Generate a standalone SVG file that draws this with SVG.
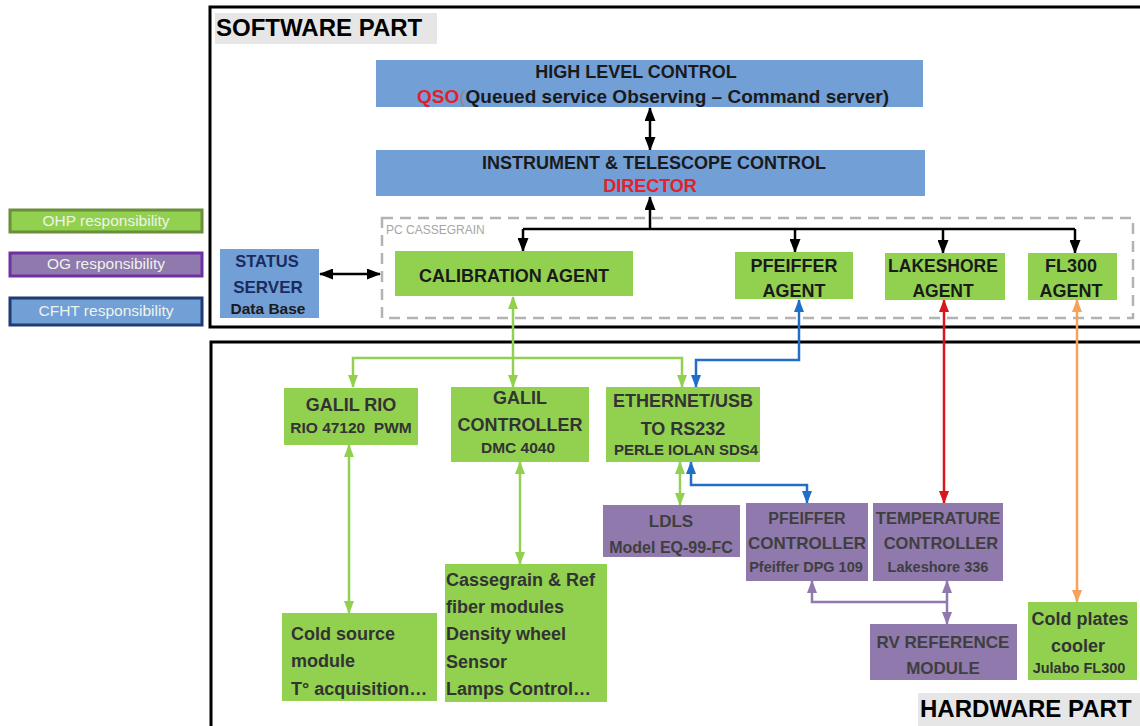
<svg xmlns="http://www.w3.org/2000/svg" width="1140" height="726" viewBox="0 0 1140 726">
<defs>
<style>
text{font-family:"Liberation Sans",Arial,sans-serif;}
.frame{fill:none;stroke:#000;stroke-width:3;}
.lbl{fill:#e6e6e6;}
.part{font-size:24px;font-weight:bold;fill:#000;}
.blue{fill:#729fd6;}
.green{fill:#92d050;}
.purple{fill:#8f79ad;}
.t{font-weight:bold;text-anchor:middle;fill:#1a1a1a;}
.h{font-weight:bold;text-anchor:middle;fill:#333;}
.hl{font-weight:bold;fill:#333;}
.p{font-weight:bold;text-anchor:middle;fill:#3f3f3f;}
.red{fill:#e3202b;}
.navy{fill:#1a2b5e;}
.leg{font-size:15.5px;text-anchor:middle;fill:#eef3ea;}
.c{fill:none;stroke-width:2.5;}
.ck{stroke:#000;}
.cg{stroke:#92d050;}
.cb{stroke:#1f6fc8;}
.cr{stroke:#d9151e;}
.co{stroke:#f7a25a;}
.cp{stroke:#8f79ad;}
</style>
<marker id="ak" viewBox="0 0 14 11" refX="13" refY="5.5" markerWidth="14" markerHeight="11" markerUnits="userSpaceOnUse" orient="auto-start-reverse"><path d="M0,0L14,5.5L0,11z" fill="#000"/></marker>
<marker id="ag" viewBox="0 0 13 10" refX="12" refY="5" markerWidth="13" markerHeight="10" markerUnits="userSpaceOnUse" orient="auto-start-reverse"><path d="M0,0L13,5L0,10z" fill="#92d050"/></marker>
<marker id="ab" viewBox="0 0 13 10" refX="12" refY="5" markerWidth="13" markerHeight="10" markerUnits="userSpaceOnUse" orient="auto-start-reverse"><path d="M0,0L13,5L0,10z" fill="#1f6fc8"/></marker>
<marker id="ar" viewBox="0 0 13 10" refX="12" refY="5" markerWidth="13" markerHeight="10" markerUnits="userSpaceOnUse" orient="auto-start-reverse"><path d="M0,0L13,5L0,10z" fill="#d9151e"/></marker>
<marker id="ao" viewBox="0 0 13 10" refX="12" refY="5" markerWidth="13" markerHeight="10" markerUnits="userSpaceOnUse" orient="auto-start-reverse"><path d="M0,0L13,5L0,10z" fill="#f7a25a"/></marker>
<marker id="ap" viewBox="0 0 13 10" refX="12" refY="5" markerWidth="13" markerHeight="10" markerUnits="userSpaceOnUse" orient="auto-start-reverse"><path d="M0,0L13,5L0,10z" fill="#8f79ad"/></marker>
</defs>
<rect width="1140" height="726" fill="#fff"/>

<g id="software-part">
<rect class="frame" x="210" y="7" width="940" height="320"/>
<rect class="lbl" x="215" y="13" width="222" height="31"/>
<text class="part" x="216" y="36">SOFTWARE PART</text>
</g>
<g id="hardware-part">
<rect class="frame" x="211" y="342" width="940" height="400"/>
<rect class="lbl" x="918" y="693" width="222" height="33"/>
<text class="part" x="920" y="717">HARDWARE PART</text>
</g>

<g id="legend">
<g id="legend-ohp"><rect x="10" y="210" width="192" height="22" fill="#92d050" stroke="#6b8e3b" stroke-width="3"/><text class="leg" x="106" y="226">OHP responsibility</text></g>
<g id="legend-og"><rect x="10" y="253" width="192" height="23" fill="#8f79ad" stroke="#7030a0" stroke-width="3"/><text class="leg" x="106" y="269">OG responsibility</text></g>
<g id="legend-cfht"><rect x="10" y="298" width="192" height="27" fill="#729fd6" stroke="#1f3b73" stroke-width="3"/><text class="leg" x="106" y="316">CFHT responsibility</text></g>
</g>

<g id="pc-cassegrain">
<rect x="382" y="218" width="751" height="100" fill="none" stroke="#b3b3b3" stroke-width="2.5" stroke-dasharray="11 7"/>
<text x="386" y="234" font-size="12" fill="#a6a6a6">PC CASSEGRAIN</text>
</g>

<g id="connectors">
<line class="c ck" x1="650" y1="108" x2="650" y2="150" marker-start="url(#ak)" marker-end="url(#ak)"/>
<line class="c ck" x1="650" y1="229" x2="650" y2="197" marker-end="url(#ak)"/>
<line class="c ck" x1="523" y1="229" x2="1075" y2="229"/>
<line class="c ck" x1="523" y1="229" x2="523" y2="251" marker-end="url(#ak)"/>
<line class="c ck" x1="795" y1="229" x2="795" y2="252" marker-end="url(#ak)"/>
<line class="c ck" x1="943" y1="229" x2="943" y2="253" marker-end="url(#ak)"/>
<line class="c ck" x1="1075" y1="229" x2="1075" y2="253" marker-end="url(#ak)"/>
<line class="c ck" x1="320" y1="274" x2="380" y2="274" marker-start="url(#ak)" marker-end="url(#ak)"/>
<line class="c cg" x1="513" y1="297" x2="513" y2="387" marker-start="url(#ag)" marker-end="url(#ag)"/>
<path class="c cg" d="M353,387V358H682V387" marker-start="url(#ag)" marker-end="url(#ag)"/>
<path class="c cb" d="M799,300V360H696V387" marker-start="url(#ab)" marker-end="url(#ab)"/>
<line class="c cg" x1="680" y1="462" x2="680" y2="505" marker-start="url(#ag)" marker-end="url(#ag)"/>
<path class="c cb" d="M691,462V485H807V503" marker-start="url(#ab)" marker-end="url(#ab)"/>
<line class="c cr" x1="944" y1="300" x2="944" y2="503" marker-start="url(#ar)" marker-end="url(#ar)"/>
<line class="c co" x1="1077" y1="300" x2="1077" y2="602" marker-start="url(#ao)" marker-end="url(#ao)"/>
<line class="c cg" x1="349" y1="445" x2="349" y2="613" marker-start="url(#ag)" marker-end="url(#ag)"/>
<line class="c cg" x1="520" y1="462" x2="520" y2="564" marker-start="url(#ag)" marker-end="url(#ag)"/>
<path class="c cp" d="M812,581V602H947" marker-start="url(#ap)"/>
<line class="c cp" x1="947" y1="581" x2="947" y2="624" marker-start="url(#ap)" marker-end="url(#ap)"/>
</g>

<g id="high-level-control">
<rect class="blue" x="376" y="60" width="547" height="47"/>
<text class="t" x="636" y="78" font-size="18">HIGH LEVEL CONTROL</text>
<text x="417" y="103" font-size="19" font-weight="bold" fill="#1a1a1a"><tspan class="red">QSO</tspan><tspan fill="#8a8a8a" font-weight="normal">(</tspan>Queued service Observing – Command server)</text>
</g>
<g id="instrument-telescope-control">
<rect class="blue" x="376" y="150" width="549" height="46"/>
<text class="t" x="654" y="169" font-size="18">INSTRUMENT &amp; TELESCOPE CONTROL</text>
<text class="t red" x="650" y="192" font-size="18">DIRECTOR</text>
</g>
<g id="status-server">
<rect class="blue" x="220" y="249" width="99" height="69"/>
<text class="t navy" x="267" y="267" font-size="16.5">STATUS</text>
<text class="t navy" x="268" y="293" font-size="17">SERVER</text>
<text class="t" x="268" y="314" font-size="15.5">Data Base</text>
</g>
<g id="calibration-agent">
<rect class="green" x="395" y="251" width="238" height="45"/>
<text class="t" x="514" y="282" font-size="18">CALIBRATION AGENT</text>
</g>
<g id="pfeiffer-agent">
<rect class="green" x="735" y="252" width="118" height="47"/>
<text class="t" x="794" y="272" font-size="18">PFEIFFER</text>
<text class="t" x="794" y="297" font-size="18">AGENT</text>
</g>
<g id="lakeshore-agent">
<rect class="green" x="885" y="253" width="120" height="47"/>
<text class="t" x="943" y="272" font-size="17.5">LAKESHORE</text>
<text class="t" x="943" y="297" font-size="17.5">AGENT</text>
</g>
<g id="fl300-agent">
<rect class="green" x="1028" y="253" width="89" height="47"/>
<text class="t" x="1071" y="272" font-size="18">FL300</text>
<text class="t" x="1071" y="297" font-size="18">AGENT</text>
</g>

<g id="galil-rio">
<rect class="green" x="284" y="388" width="134" height="57"/>
<text class="h" x="351" y="411" font-size="18">GALIL RIO</text>
<text class="h" x="351" y="433" font-size="15.5" xml:space="preserve">RIO 47120  PWM</text>
</g>
<g id="galil-controller">
<rect class="green" x="451" y="387" width="138" height="75"/>
<text class="h" x="520" y="404" font-size="18">GALIL</text>
<text class="h" x="520" y="431" font-size="18">CONTROLLER</text>
<text class="h" x="518" y="453" font-size="15.5">DMC 4040</text>
</g>
<g id="ethernet-usb">
<rect class="green" x="606" y="387" width="154" height="75"/>
<text class="h" x="683" y="407" font-size="18">ETHERNET/USB</text>
<text class="h" x="683" y="435" font-size="18">TO RS232</text>
<text class="h" x="686" y="455" font-size="15">PERLE IOLAN SDS4</text>
</g>
<g id="ldls">
<rect class="purple" x="603" y="505" width="137" height="52"/>
<text class="p" x="671" y="527" font-size="17">LDLS</text>
<text class="p" x="671" y="553" font-size="16">Model EQ-99-FC</text>
</g>
<g id="pfeiffer-controller">
<rect class="purple" x="746" y="503" width="122" height="78"/>
<text class="p" x="807" y="524" font-size="16">PFEIFFER</text>
<text class="p" x="807" y="549" font-size="17">CONTROLLER</text>
<text class="p" x="806" y="572" font-size="14.5">Pfeiffer DPG 109</text>
</g>
<g id="temperature-controller">
<rect class="purple" x="873" y="503" width="130" height="78"/>
<text class="p" x="938" y="524" font-size="16.5">TEMPERATURE</text>
<text class="p" x="941" y="549" font-size="16.5">CONTROLLER</text>
<text class="p" x="938" y="572" font-size="14.5">Lakeshore 336</text>
</g>
<g id="rv-reference-module">
<rect class="purple" x="870" y="624" width="147" height="56"/>
<text class="p" x="943" y="648" font-size="17">RV REFERENCE</text>
<text class="p" x="943" y="674" font-size="17">MODULE</text>
</g>
<g id="cold-plates-cooler">
<rect class="green" x="1028" y="602" width="109" height="78"/>
<text class="h" x="1080" y="625" font-size="18">Cold plates</text>
<text class="h" x="1078" y="652" font-size="18">cooler</text>
<text class="h" x="1079" y="673" font-size="14.5">Julabo FL300</text>
</g>
<g id="cold-source-module">
<rect class="green" x="282" y="613" width="155" height="88"/>
<text class="hl" x="291" y="640" font-size="18">Cold source</text>
<text class="hl" x="291" y="667" font-size="18">module</text>
<text class="hl" x="291" y="695" font-size="18">T° acquisition…</text>
</g>
<g id="cassegrain-modules">
<rect class="green" x="445" y="564" width="162" height="138"/>
<text class="hl" x="446" y="586" font-size="18">Cassegrain &amp; Ref</text>
<text class="hl" x="446" y="613" font-size="18">fiber modules</text>
<text class="hl" x="446" y="640" font-size="18">Density wheel</text>
<text class="hl" x="446" y="668" font-size="18">Sensor</text>
<text class="hl" x="446" y="695" font-size="18">Lamps Control…</text>
</g>
</svg>
